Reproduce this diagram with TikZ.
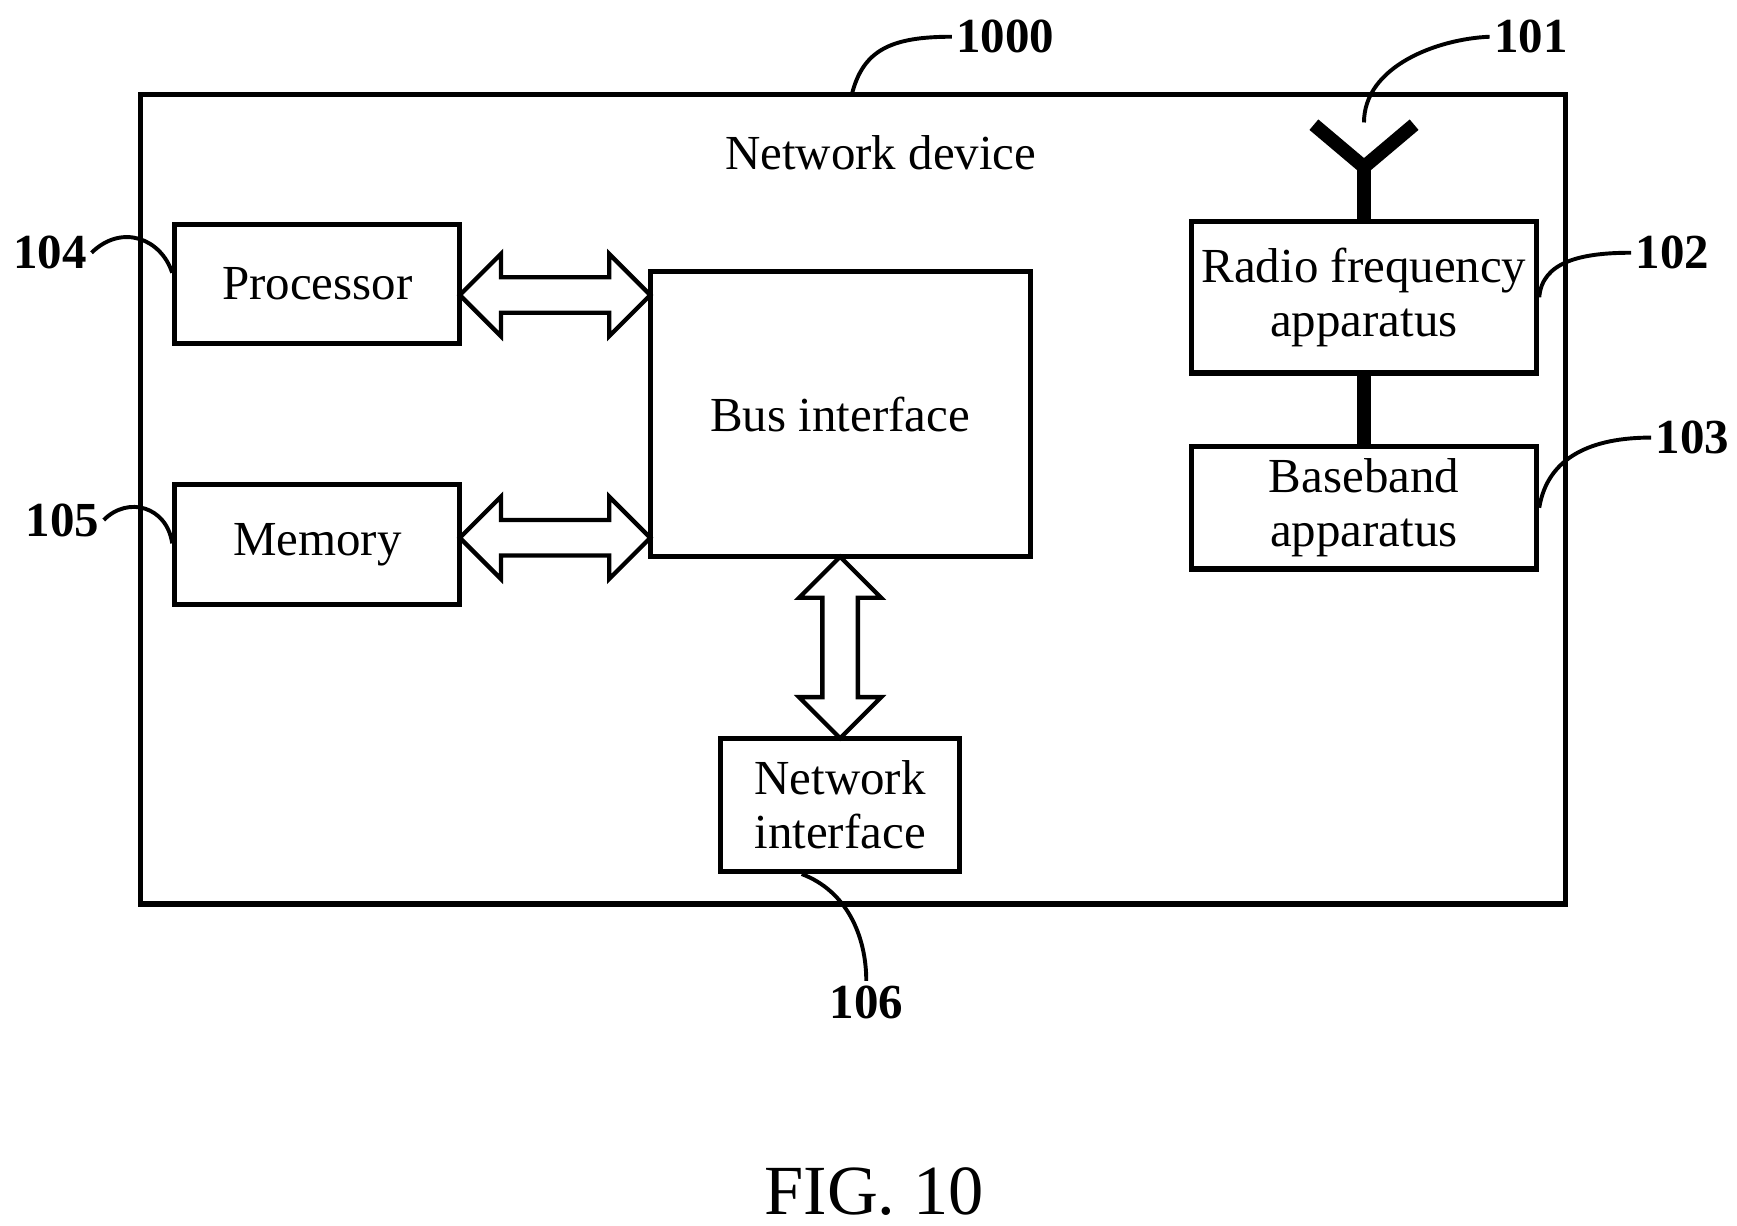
\documentclass[tikz,border=0pt]{standalone}
\usepackage{fontspec}
\setmainfont{Liberation Serif}
\usetikzlibrary{shapes,shapes.arrows,calc,positioning}
\tikzstyle{block} =[draw, line width=1.3pt, inner sep=0pt, align=center,
                    font=\fontsize{12.5}{13.8}\selectfont]
\tikzstyle{bus}   =[double arrow, draw, line width=1.1pt, inner sep=0.14cm,
                    double arrow head extend=0.21cm, minimum width=0.7cm]
\tikzstyle{lead}  =[line width=1pt]
\tikzstyle{num}   =[inner sep=1pt, font=\fontsize{12.5}{15}\selectfont\bfseries]
\tikzstyle{thick line}=[line width=3.5pt]

\begin{document}
\begin{tikzpicture}[x=0.01cm, y=-0.01cm]
            \useasboundingbox (0,0) rectangle (1560,1101);
            \begin{scope}
                % frame and blocks
                \draw[line width=1.4pt] (126,85) rectangle (1406,812);
                \node (dev) [inner sep=0pt, font=\fontsize{12.5}{15}\selectfont] at (791,137) {Network device};
                \node (proc) [block, minimum width=2.56cm, minimum height=1.07cm] at (285,255) {Processor};
                \node (mem) [block, minimum width=2.56cm, minimum height=1.07cm] at (285,489) {Memory};
                \node (bus) [block, minimum width=3.41cm, minimum height=2.56cm] at (754.5,372) {Bus interface};
                \node (net) [block, minimum width=2.15cm, minimum height=1.2cm] at (754.5,723) {Network\\interface};
                \node (rf) [block, minimum width=3.1cm, minimum height=1.36cm] at (1225,267) {Radio frequency\\apparatus};
                \node (bb) [block, minimum width=3.1cm, minimum height=1.1cm] at (1225,456) {Baseband\\apparatus};
                % bus arrows
                \node (a1) [bus, minimum height=1.71cm] at ($(proc.east |- 0,265)!0.5!(bus.west |- 0,265)$) {};
                \node (a2) [bus, minimum height=1.71cm] at ($(mem.east |- 0,483)!0.5!(bus.west |- 0,483)$) {};
                \node (a3) [bus, rotate=90, minimum height=1.63cm] at ($(bus.south)!0.5!(net.north)$) {};
                % antenna
                \coordinate (top) at (1225,150);
                \draw[thick line] (rf.north) to (top);
                \draw[thick line] (1180,112) to (top) to (1270,112);
                \draw[thick line] (rf.south) to (bb.north);
                % reference numerals
                \node (n1000) [num] at (903,33) {1000};
                \node (n101) [num] at (1375,33) {101};
                \node (n102) [num] at (1502,227) {102};
                \node (n103) [num] at (1520,393) {103};
                \node (n104) [num] at (45,227) {104};
                \node (n105) [num] at (56,467) {105};
                \node (n106) [num] at (778,900) {106};
                \draw[lead] (765,85) .. controls (775,45) and (800,33) .. (n1000.west);
                \draw[lead] (1225,110) .. controls (1225,60) and (1290,35) .. (n101.west);
                \draw[lead] (rf.east) .. controls (1385,235) and (1420,227) .. (n102.west);
                \draw[lead] (bb.east) .. controls (1390,410) and (1430,393) .. (n103.west);
                \draw[lead] (proc.west |- 0,245) .. controls (145,215) and (110,200) .. (n104.east);
                \draw[lead] (mem.west |- 0,488) .. controls (150,455) and (115,445) .. (n105.east);
                \draw[lead] (720,785) .. controls (760,800) and (778,840) .. (n106.north);
                \node (fig) [inner sep=0pt, font=\fontsize{18}{21}\selectfont] at (785,1070) {FIG. 10};
            \end{scope}
        \end{tikzpicture}
\end{document}
